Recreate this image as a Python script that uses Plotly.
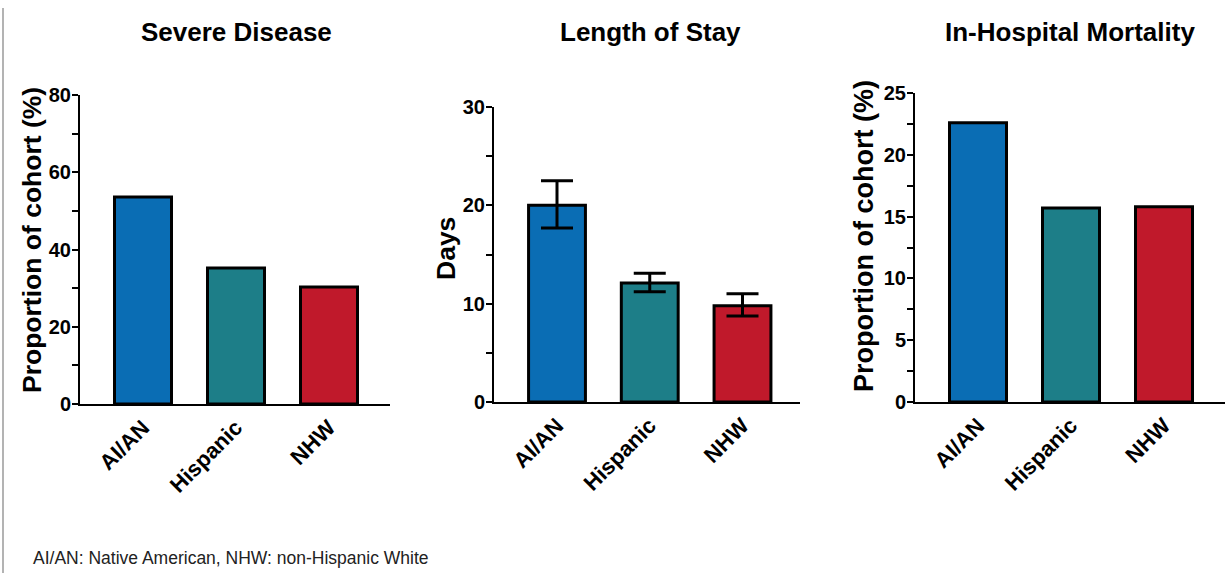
import plotly.graph_objects as go

categories = ["AI/AN", "Hispanic", "NHW"]
bar_colors = ["#0a6db4", "#1d7e88", "#c0192b"]

severe_disease = [53.6, 35.2, 30.3]
length_of_stay = [20.0, 12.1, 9.8]
los_err_plus = [2.5, 1.0, 1.2]
los_err_minus = [2.3, 0.9, 1.05]
mortality = [22.6, 15.7, 15.8]

panel_titles = ["Severe Disease", "Length of Stay", "In-Hospital Mortality"]
y_titles = ["Proportion of cohort (%)", "Days", "Proportion of cohort (%)"]
footnote = "AI/AN: Native American, NHW: non-Hispanic White"

W, H = 1225, 573
FONT = "Liberation Sans, Arial, sans-serif"

fig = go.Figure()

bar_common = dict(
    marker=dict(color=bar_colors, line=dict(color="black", width=3)),
    width=0.613,
    showlegend=False,
    hoverinfo="x+y",
)

fig.add_trace(go.Bar(x=categories, y=severe_disease, xaxis="x", yaxis="y", **bar_common))
fig.add_trace(go.Bar(
    x=categories, y=length_of_stay, xaxis="x2", yaxis="y2",
    error_y=dict(type="data", array=los_err_plus, arrayminus=los_err_minus,
                 color="black", thickness=3, width=16, symmetric=False),
    **bar_common))
fig.add_trace(go.Bar(x=categories, y=mortality, xaxis="x3", yaxis="y3", **bar_common))


def px_x(p):
    return p / W


def px_y(p):
    return 1 - p / H


xcommon = dict(
    type="category", showline=True, linecolor="black", linewidth=2,
    ticks="", showgrid=False, zeroline=False, tickangle=-45,
    tickfont=dict(family=FONT, size=22, color="black", weight="bold"),
    fixedrange=True, automargin=False,
)
ycommon = dict(
    showline=True, linecolor="black", linewidth=2, ticks="outside",
    ticklen=6, tickwidth=2, tickcolor="black", showgrid=False, zeroline=False,
    tickfont=dict(family=FONT, size=20, color="black", weight="bold"),
    ticklabelstandoff=-3,
    fixedrange=True, automargin=False,
)

# panel geometry (pixels)
panels = [
    dict(x0=80, x1=390, y0=404, y1=95, rng=[0, 80], dt=20, mdt=10, cx=143, sp=93),
    dict(x0=494, x1=800, y0=402, y1=107, rng=[0, 30], dt=10, mdt=5, cx=557, sp=92.75),
    dict(x0=915, x1=1225, y0=402, y1=93, rng=[0, 25], dt=5, mdt=2.5, cx=978, sp=93),
]

layout_axes = {}
for i, p in enumerate(panels):
    sx = "" if i == 0 else str(i + 1)
    xr = [(p["x0"] - p["cx"]) / p["sp"], (p["x1"] - p["cx"]) / p["sp"]]
    layout_axes["xaxis" + sx] = dict(
        xcommon, domain=[px_x(p["x0"]), px_x(p["x1"])], range=xr,
        anchor="y" + sx)
    layout_axes["yaxis" + sx] = dict(
        ycommon, domain=[px_y(p["y0"]), px_y(p["y1"])], range=p["rng"],
        dtick=p["dt"], tick0=0, anchor="x" + sx,
        minor=dict(dtick=p["mdt"], ticks="outside", ticklen=6, tickwidth=2,
                   tickcolor="black", showgrid=False))

fig.update_layout(
    width=W, height=H, autosize=False,
    margin=dict(l=0, r=0, t=0, b=0, pad=0, autoexpand=False),
    paper_bgcolor="white", plot_bgcolor="white",
    font=dict(family=FONT, color="black"),
    **layout_axes,
)

annotations = []
title_cx = [236, 650, 1070]
for t, cx in zip(panel_titles, title_cx):
    annotations.append(dict(
        text=t, x=px_x(cx), y=px_y(32), xref="paper", yref="paper",
        xanchor="center", yanchor="middle", showarrow=False,
        font=dict(family=FONT, size=26, color="black", weight="bold")))

ytitle_pos = [(32, 240), (446, 249), (864, 236)]
ytitle_size = [26.5, 26.5, 27]
for t, (cx, cy), fs in zip(y_titles, ytitle_pos, ytitle_size):
    annotations.append(dict(
        text=t, x=px_x(cx), y=px_y(cy), xref="paper", yref="paper",
        xanchor="center", yanchor="middle", showarrow=False, textangle=-90,
        font=dict(family=FONT, size=fs, color="black", weight="bold")))

annotations.append(dict(
    text=footnote, x=px_x(31), y=px_y(558), xref="paper", yref="paper",
    xanchor="left", yanchor="middle", showarrow=False,
    font=dict(family=FONT, size=17.5, color="#222222")))

fig.update_layout(annotations=annotations)

fig.add_shape(type="line", xref="paper", yref="paper",
              x0=px_x(3), x1=px_x(3), y0=0, y1=px_y(8),
              line=dict(color="#9a9a9a", width=1.5))

fig.write_html(
    "out.html",
    config={"displayModeBar": False},
    post_script="document.body.style.margin='0';document.body.style.overflow='hidden';",
)
